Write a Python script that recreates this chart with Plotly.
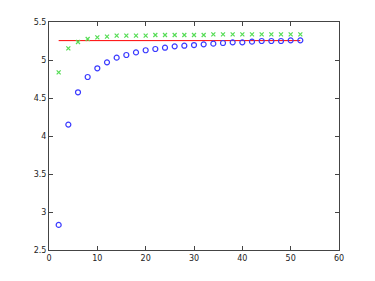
import plotly.graph_objects as go

x_vals = list(range(2, 54, 2))
blue_vals = [2.83, 4.15, 4.575, 4.776, 4.891, 4.969, 5.031, 5.066, 5.10, 5.128, 5.145, 5.162, 5.18,
             5.188, 5.197, 5.206, 5.215, 5.224, 5.232, 5.232, 5.241, 5.25, 5.25, 5.25, 5.259, 5.259]
green_vals = [4.838, 5.153, 5.237, 5.276, 5.298, 5.307, 5.32, 5.32, 5.32, 5.32, 5.329, 5.329, 5.329,
              5.329, 5.329, 5.329, 5.338, 5.338, 5.338, 5.338, 5.338, 5.338, 5.338, 5.338, 5.338, 5.338]
red_x = [2, 52]
red_y = [5.255, 5.255]

x_ticks = [0, 10, 20, 30, 40, 50, 60]
y_ticks = [2.5, 3, 3.5, 4, 4.5, 5, 5.5]
y_tick_labels = ["2.5", "3", "3.5", "4", "4.5", "5", "5.5"]

fig = go.Figure()
fig.add_trace(go.Scatter(x=red_x, y=red_y, mode="lines",
                         line=dict(color="#ff0000", width=1)))
fig.add_trace(go.Scatter(x=x_vals, y=blue_vals, mode="markers",
                         marker=dict(symbol="circle-open", size=5, color="#3a3aff",
                                     line=dict(width=1.2, color="#3a3aff"))))
fig.add_trace(go.Scatter(x=x_vals, y=green_vals, mode="markers",
                         marker=dict(symbol="x-thin-open", size=4, color="#55dd55",
                                     line=dict(width=1.2, color="#55dd55"))))

axis_common = dict(showgrid=False, zeroline=False, showline=True, linecolor="#444444",
                   linewidth=1, mirror="ticks", ticks="inside", ticklen=4,
                   tickcolor="#444444", tickfont=dict(family="DejaVu Sans", size=8, color="#222222"))

fig.update_layout(
    width=375, height=281,
    margin=dict(l=49, r=36, t=22, b=31),
    paper_bgcolor="white", plot_bgcolor="white",
    showlegend=False,
    xaxis=dict(range=[0, 60], tickvals=x_ticks, **axis_common),
    yaxis=dict(range=[2.5, 5.5], tickvals=y_ticks, ticktext=y_tick_labels, **axis_common),
)

fig.write_html("out.html")
